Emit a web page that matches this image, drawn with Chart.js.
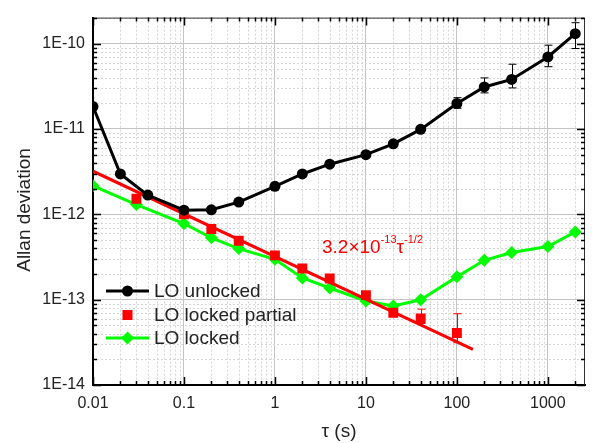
<!DOCTYPE html>
<html>
<head>
<meta charset="utf-8">
<script src="https://cdn.jsdelivr.net/npm/chart.js@4/dist/chart.umd.min.js"></script>
<style>
  html, body { margin: 0; padding: 0; background: #fff; }
  canvas { display: block; }
</style>
</head>
<body>
<canvas id="adevChart" width="592" height="443"></canvas>
<script>
// data
const unlockedTau = [0.01, 0.02, 0.04, 0.1, 0.2, 0.4, 1, 2, 4, 10, 20, 40, 100, 200, 400, 1000, 2000];
const unlockedAdev = [1.83e-11, 2.97e-12, 1.68e-12, 1.12e-12, 1.13e-12, 1.39e-12, 2.13e-12, 2.97e-12, 3.87e-12,
  5.0e-12, 6.7e-12, 9.9e-12, 1.99e-11, 3.11e-11, 3.81e-11, 6.99e-11, 1.31e-10];
const unlockedErrHi = [null, null, null, null, null, null, null, null, null, null, null, null,
  2.33e-11, 3.97e-11, 5.74e-11, 9.59e-11, 1.76e-10];
const unlockedErrLo = [null, null, null, null, null, null, null, null, null, null, null, null,
  1.75e-11, 2.65e-11, 3.03e-11, 5.37e-11, 8.77e-11];

const partialTau = [0.03, 0.1, 0.2, 0.4, 1, 2, 4, 10, 20, 40, 100];
const partialAdev = [1.52e-12, 1.0e-12, 6.73e-13, 4.91e-13, 3.30e-13, 2.32e-13, 1.77e-13, 1.13e-13, 7.03e-14, 6.04e-14, 4.06e-14];
const partialErrHi = [null, null, null, null, null, null, null, null, null, 7.74e-14, 6.84e-14];
const partialErrLo = [null, null, null, null, null, null, null, null, null, 5.25e-14, 3.13e-14];

const lockedTau = [0.01, 0.03, 0.1, 0.2, 0.4, 1, 2, 4, 10, 20, 40, 100, 200, 400, 1000, 2000];
const lockedAdev = [2.16e-12, 1.30e-12, 7.8e-13, 5.31e-13, 3.97e-13, 2.97e-13, 1.80e-13, 1.37e-13, 9.64e-14,
  8.45e-14, 9.97e-14, 1.85e-13, 2.89e-13, 3.57e-13, 4.19e-13, 6.22e-13];

// endpoints of the fitted tau^-1/2 line
const fitTau = [0.01, 150];
const fitAdev = [3.2e-12, 2.61e-14];

const xTickValues = [0.01, 0.1, 1, 10, 100, 1000];
const xTickLabels = ["0.01", "0.1", "1", "10", "100", "1000"];
const yTickValues = [1e-14, 1e-13, 1e-12, 1e-11, 1e-10];
const yTickLabels = ["1E-14", "1E-13", "1E-12", "1E-11", "1E-10"];

const seriesNames = ["LO unlocked", "LO locked partial", "LO locked"];
const fitLabel = { base: "3.2\u00d710", exp1: "-13", sym: "\u03c4", exp2: "-1/2" };
const xTitle = "\u03c4 (s)";
const yTitle = "Allan deviation";

const FONT = "'Liberation Sans', Arial, sans-serif";

function pts(xs, ys) {
  return xs.map((x, i) => ({ x: x, y: ys[i] }));
}

function isDecade(v) {
  const l = Math.log10(v);
  return Math.abs(l - Math.round(l)) < 1e-9;
}

function labelFor(v, values, labels) {
  const i = values.findIndex((t) => Math.abs(Math.log10(t) - Math.log10(v)) < 1e-9);
  return i >= 0 ? labels[i] : "";
}

// 1..9 x 10^k ticks inside [min, max]
function logTicks(min, max) {
  const out = [];
  for (let e = Math.floor(Math.log10(min)); e <= Math.ceil(Math.log10(max)); e++) {
    for (let m = 1; m <= 9; m++) {
      const v = m * Math.pow(10, e);
      if (v >= min * 0.999999 && v <= max * 1.000001) out.push({ value: v });
    }
  }
  return out;
}

const errorBars = [
  { tau: unlockedTau, hi: unlockedErrHi, lo: unlockedErrLo, color: "#000" },
  { tau: partialTau, hi: partialErrHi, lo: partialErrLo, color: "#ff0000" },
];

const framePlugin = {
  id: "framePlugin",
  beforeDatasetsDraw(chart) {
    const { ctx, chartArea: a, scales: { x, y } } = chart;
    ctx.save();
    // dashed minor grid
    ctx.strokeStyle = "#d6d6d6";
    ctx.lineWidth = 1;
    ctx.setLineDash([2, 2]);
    x.ticks.forEach((t) => {
      if (isDecade(t.value)) return;
      const px = Math.round(x.getPixelForValue(t.value)) + 0.5;
      ctx.beginPath(); ctx.moveTo(px, a.top); ctx.lineTo(px, a.bottom); ctx.stroke();
    });
    y.ticks.forEach((t) => {
      if (isDecade(t.value)) return;
      const py = Math.round(y.getPixelForValue(t.value)) + 0.5;
      ctx.beginPath(); ctx.moveTo(a.left, py); ctx.lineTo(a.right, py); ctx.stroke();
    });
    ctx.setLineDash([]);

    // error bars
    errorBars.forEach((eb) => {
      ctx.strokeStyle = eb.color;
      ctx.lineWidth = 1;
      eb.tau.forEach((t, i) => {
        if (eb.hi[i] == null) return;
        const px = Math.round(x.getPixelForValue(t)) + 0.5;
        const top = y.getPixelForValue(eb.hi[i]);
        const bot = y.getPixelForValue(eb.lo[i]);
        ctx.beginPath();
        ctx.moveTo(px, top); ctx.lineTo(px, bot);
        ctx.moveTo(px - 4, top); ctx.lineTo(px + 4, top);
        ctx.moveTo(px - 4, bot); ctx.lineTo(px + 4, bot);
        ctx.stroke();
      });
    });
    ctx.restore();
  },
  afterDraw(chart) {
    const { ctx, chartArea: a, scales: { x, y } } = chart;
    ctx.save();

    // top / right frame
    ctx.strokeStyle = "#333";
    ctx.lineWidth = 1;
    ctx.beginPath();
    ctx.moveTo(a.left, a.top + 0.5); ctx.lineTo(a.right - 0.5, a.top + 0.5); ctx.lineTo(a.right - 0.5, a.bottom);
    ctx.stroke();

    // inward ticks on all four sides
    ctx.strokeStyle = "#000";
    ctx.lineWidth = 1.5;
    ctx.beginPath();
    x.ticks.forEach((t) => {
      const len = isDecade(t.value) ? 8 : 4;
      const px = Math.round(x.getPixelForValue(t.value)) + 0.5;
      ctx.moveTo(px, a.bottom); ctx.lineTo(px, a.bottom - len);
      ctx.moveTo(px, a.top); ctx.lineTo(px, a.top + len);
    });
    y.ticks.forEach((t) => {
      const len = isDecade(t.value) ? 8 : 4;
      const py = Math.round(y.getPixelForValue(t.value)) + 0.5;
      ctx.moveTo(a.left, py); ctx.lineTo(a.left + len, py);
      ctx.moveTo(a.right, py); ctx.lineTo(a.right - len, py);
    });
    ctx.stroke();

    // axis titles
    ctx.fillStyle = "#222";
    ctx.font = "19px " + FONT;
    ctx.textAlign = "center";
    ctx.textBaseline = "middle";
    ctx.fillText(xTitle, (a.left + a.right) / 2, 432);
    ctx.translate(25, 210);
    ctx.rotate(-Math.PI / 2);
    ctx.fillText(yTitle, 0, 0);
    ctx.setTransform(1, 0, 0, 1, 0, 0);

    // fit annotation
    ctx.fillStyle = "#ff0000";
    ctx.textAlign = "left";
    ctx.textBaseline = "alphabetic";
    let tx = 322;
    ctx.font = "19px " + FONT;
    ctx.fillText(fitLabel.base, tx, 253);
    tx += ctx.measureText(fitLabel.base).width;
    ctx.font = "11px " + FONT;
    ctx.fillText(fitLabel.exp1, tx, 243);
    tx += ctx.measureText(fitLabel.exp1).width;
    ctx.font = "19px " + FONT;
    ctx.fillText(fitLabel.sym, tx, 253);
    tx += ctx.measureText(fitLabel.sym).width;
    ctx.font = "11px " + FONT;
    ctx.fillText(fitLabel.exp2, tx, 243);

    // legend
    const rows = [291, 315, 338];
    const x0 = 106, x1 = 149, xm = 127.5;
    ctx.lineWidth = 3;
    // unlocked
    ctx.strokeStyle = "#000"; ctx.fillStyle = "#000";
    ctx.beginPath(); ctx.moveTo(x0, rows[0]); ctx.lineTo(x1, rows[0]); ctx.stroke();
    ctx.beginPath(); ctx.arc(xm, rows[0], 5.5, 0, Math.PI * 2); ctx.fill();
    // partial
    ctx.fillStyle = "#ff0000";
    ctx.fillRect(xm - 5, rows[1] - 5, 10, 10);
    // locked
    ctx.strokeStyle = "#00ff00"; ctx.fillStyle = "#00ff00";
    ctx.beginPath(); ctx.moveTo(x0, rows[2]); ctx.lineTo(x1, rows[2]); ctx.stroke();
    ctx.beginPath();
    ctx.moveTo(xm, rows[2] - 6.5); ctx.lineTo(xm + 6.5, rows[2]); ctx.lineTo(xm, rows[2] + 6.5); ctx.lineTo(xm - 6.5, rows[2]);
    ctx.closePath(); ctx.fill();

    ctx.fillStyle = "#222";
    ctx.font = "19px " + FONT;
    ctx.textBaseline = "middle";
    seriesNames.forEach((n, i) => ctx.fillText(n, 154, rows[i] + 1));
    ctx.restore();
  },
};

const chart = new Chart(document.getElementById("adevChart").getContext("2d"), {
  type: "line",
  data: {
    datasets: [
      {
        label: seriesNames[0],
        data: pts(unlockedTau, unlockedAdev),
        borderColor: "#000",
        backgroundColor: "#000",
        borderWidth: 3,
        pointStyle: "circle",
        pointRadius: 5.5,
        pointBorderWidth: 0,
      },
      {
        label: seriesNames[1],
        data: pts(partialTau, partialAdev),
        showLine: false,
        borderColor: "#ff0000",
        backgroundColor: "#ff0000",
        pointStyle: "rect",
        pointRadius: 7,
        pointBorderWidth: 0,
      },
      {
        label: "fit",
        data: pts(fitTau, fitAdev),
        borderColor: "#ff0000",
        borderWidth: 3,
        pointRadius: 0,
      },
      {
        label: seriesNames[2],
        data: pts(lockedTau, lockedAdev),
        borderColor: "#00ff00",
        backgroundColor: "#00ff00",
        borderWidth: 3,
        pointStyle: "rectRot",
        pointRadius: 6.5,
        pointBorderWidth: 0,
      },
    ],
  },
  options: {
    responsive: false,
    animation: false,
    devicePixelRatio: 1,
    layout: { padding: { top: 9, right: 6, left: 0, bottom: 0 } },
    plugins: { legend: { display: false }, tooltip: { enabled: false } },
    elements: { line: { tension: 0 } },
    scales: {
      x: {
        type: "logarithmic",
        min: 0.01,
        max: 2560,
        afterBuildTicks: (s) => { s.ticks = logTicks(0.01, 2560); },
        afterFit: (s) => { s.height = 58; },
        ticks: {
          autoSkip: false,
          maxRotation: 0,
          padding: 9,
          color: "#222",
          font: { family: FONT, size: 16 },
          callback: (v) => labelFor(v, xTickValues, xTickLabels),
        },
        grid: {
          drawTicks: false,
          lineWidth: 1,
          color: (c) => (c.tick && isDecade(c.tick.value) ? "#c4c4c4" : "rgba(0,0,0,0)"),
        },
        border: { color: "#000", width: 2 },
      },
      y: {
        type: "logarithmic",
        min: 1e-14,
        max: 2.02e-10,
        afterBuildTicks: (s) => { s.ticks = logTicks(1e-14, 2.02e-10); },
        afterFit: (s) => { s.width = 93; },
        ticks: {
          autoSkip: false,
          padding: 8,
          color: "#222",
          font: { family: FONT, size: 16 },
          callback: (v) => labelFor(v, yTickValues, yTickLabels),
        },
        grid: {
          drawTicks: false,
          lineWidth: 1,
          color: (c) => (c.tick && isDecade(c.tick.value) ? "#c4c4c4" : "rgba(0,0,0,0)"),
        },
        border: { color: "#000", width: 2 },
      },
    },
  },
  plugins: [framePlugin],
});
</script>
</body>
</html>
